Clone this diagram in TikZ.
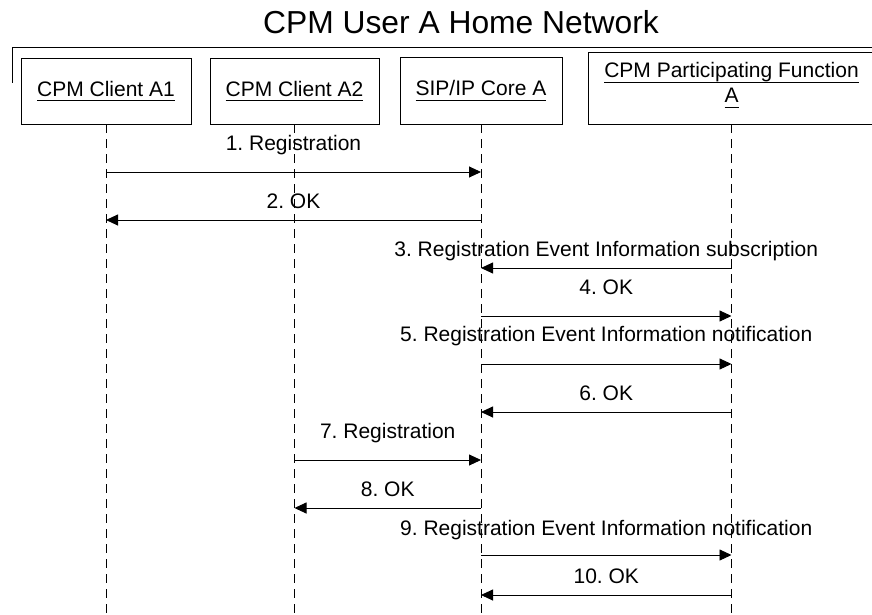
\documentclass[tikz,border=0pt]{standalone}
\usepackage{fontspec}
\setmainfont{Liberation Sans}
\usetikzlibrary{arrows.meta}
\frenchspacing
\newcommand{\ulx}[1]{\underline{\raisebox{0pt}[\height][2.6pt]{#1}}}
\begin{document}
\begin{tikzpicture}[x=1pt,y=-1pt,
  actor/.style={draw,line width=0.9pt,inner sep=0pt,font=\fontsize{21}{25}\selectfont,align=center},
  life/.style={line width=0.9pt,dash pattern=on 9pt off 6pt},
  msg/.style={line width=0.9pt,-{Triangle[length=12pt,width=11pt]}},
  lbl/.style={font=\fontsize{21}{25}\selectfont,anchor=base,inner sep=0pt}]
\useasboundingbox (0,0) rectangle (872,615);
\clip (0,0) rectangle (872,615);
\node[font=\fontsize{31.8}{36}\selectfont,anchor=base,inner sep=0pt] (title) at (461,33.5) {CPM User A Home Network};
\coordinate (fA) at (12,83);
\coordinate (fB) at (12,48);
\coordinate (fC) at (890,48);
\draw[line width=1pt] (fA) -- (fB) -- (fC);
\node[actor,minimum width=170pt,minimum height=66pt] (a1) at (106,91) {\ulx{CPM Client A1}};
\node[actor,minimum width=169pt,minimum height=66pt] (a2) at (294.5,91) {\ulx{CPM Client A2}};
\node[actor,minimum width=162pt,minimum height=67pt] (core) at (481,90.5) {\ulx{SIP/IP Core A}};
\node[actor,minimum width=287pt,minimum height=72pt] (pf) at (731.5,88) {};
\node[actor,draw=none,yshift=3pt] (pftext) at (pf) {\ulx{CPM Participating Function}\\\ulx{A}};
\foreach \n in {a1,a2,core,pf}
  \draw[life] (\n.south) -- (\n.south |- 0,615);
\foreach \f/\t/\y/\b/\txt [count=\i] in {
  a1/core/172/150/{1. Registration},
  core/a1/220/208/{2. OK},
  pf/core/268/256/{3. Registration Event Information subscription},
  core/pf/316/294/{4. OK},
  core/pf/364/341/{5. Registration Event Information notification},
  pf/core/412/400/{6. OK},
  a2/core/460/438/{7. Registration},
  core/a2/508/496/{8. OK},
  core/pf/555/535/{9. Registration Event Information notification},
  pf/core/595/583/{10. OK}}
{
  \pgfmathsetmacro{\dy}{\y-\b}
  \draw[msg] (\f.south |- 0,\y) -- (\t.south |- 0,\y)
    node[lbl,midway,yshift=\dy pt] (lbl\i) {\txt};
}
\end{tikzpicture}
\end{document}
